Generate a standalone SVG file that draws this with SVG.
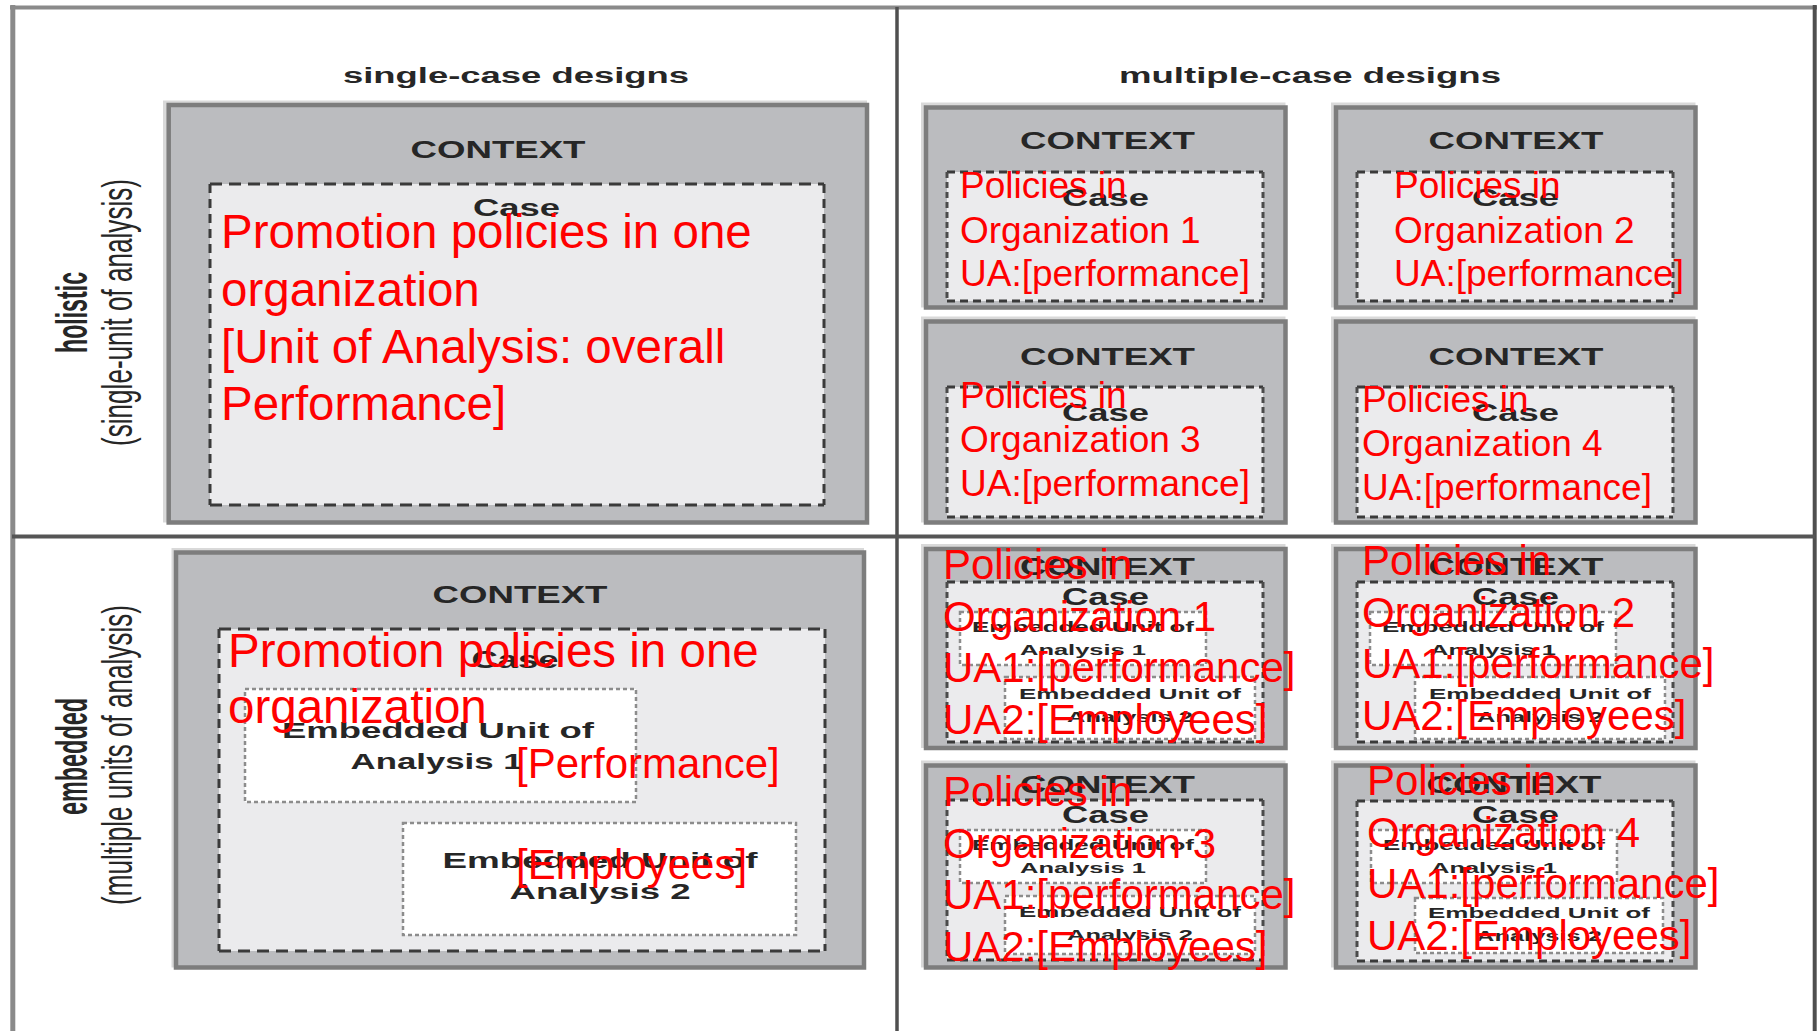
<svg xmlns="http://www.w3.org/2000/svg" width="1817" height="1031" viewBox="0 0 1817 1031">
<defs>
<style>
.bg{fill:#ffffff}
.halo{fill:#d9d9d9}
.ctx{fill:#bbbcbf;stroke:#7d7d7d;stroke-width:4.5}
.case{fill:#ebebed}
.sdh{fill:none;stroke:#3a3a3a;stroke-width:3;stroke-dasharray:12 7}
.sdv{fill:none;stroke:#3a3a3a;stroke-width:3;stroke-dasharray:9 6}
.mdh{fill:none;stroke:#3a3a3a;stroke-width:3;stroke-dasharray:8 5}
.mdv{fill:none;stroke:#4a4a4a;stroke-width:3;stroke-dasharray:6 4}
.eu{fill:#ffffff;stroke:#8c8c8c;stroke-width:2.5;stroke-dasharray:4 3}
.lbl{font-family:"Liberation Sans",Arial,Helvetica,sans-serif;font-weight:bold;fill:#262626;text-anchor:middle}
.rot{font-family:"Liberation Sans",Arial,Helvetica,sans-serif;fill:#262626;text-anchor:middle}
.red{font-family:"Liberation Sans",Arial,Helvetica,sans-serif;fill:#ff0000}
.ctxt{font-size:24px}
.cst{font-size:23px}
.eus{font-size:15px}
.eub{font-size:22px}
.r47{font-size:47.5px}
.r42{font-size:42px}
.r37{font-size:37px}
</style>
</defs>
<rect class="bg" x="0" y="0" width="1817" height="1031"/>

<g id="frame">
<line x1="10" y1="7.5" x2="1817" y2="7.5" stroke="#8a8a8a" stroke-width="4"/>
<line x1="12.8" y1="5" x2="12.8" y2="1031" stroke="#8a8a8a" stroke-width="5"/>
<line x1="1814.7" y1="5" x2="1814.7" y2="1031" stroke="#4f4f4f" stroke-width="4"/>
<line x1="897" y1="7" x2="897" y2="1031" stroke="#4f4f4f" stroke-width="3.5"/>
<line x1="12" y1="536.5" x2="1815" y2="536.5" stroke="#555555" stroke-width="4"/>
</g>

<g id="headers">
<text class="lbl" x="516" y="82.6" font-size="21.5" textLength="346" lengthAdjust="spacingAndGlyphs">single-case designs</text>
<text class="lbl" x="1310" y="82.6" font-size="21.5" textLength="382" lengthAdjust="spacingAndGlyphs">multiple-case designs</text>
</g>

<g id="row-labels">
<text class="lbl" transform="translate(87,312.5) rotate(-90)" font-size="44" textLength="81" lengthAdjust="spacingAndGlyphs">holistic</text>
<text class="rot" transform="translate(132.3,312.5) rotate(-90)" font-size="42" textLength="267" lengthAdjust="spacingAndGlyphs">(single-unit of analysis)</text>
<text class="lbl" transform="translate(87,756.5) rotate(-90)" font-size="44" textLength="117" lengthAdjust="spacingAndGlyphs">embedded</text>
<text class="rot" transform="translate(132.3,755) rotate(-90)" font-size="42" textLength="300" lengthAdjust="spacingAndGlyphs">(multiple units of analysis)</text>
</g>

<g id="single-holistic">
<rect class="halo" x="163" y="100.5" width="704" height="422"/>
<rect class="ctx" x="168.7" y="105" width="698.3" height="417.5"/>
<rect class="case" x="210" y="184" width="614" height="321"/>
<path class="sdh" d="M210 184H824M210 505H824"/>
<path class="sdv" d="M210 184V505M824 184V505"/>
<text class="lbl ctxt" x="498" y="157.5" textLength="175" lengthAdjust="spacingAndGlyphs">CONTEXT</text>
<text class="lbl cst" x="516.6" y="215.5" textLength="87" lengthAdjust="spacingAndGlyphs">Case</text>
<text class="red r47" x="221" y="248">Promotion policies in one</text>
<text class="red r47" x="221" y="305.5">organization</text>
<text class="red r47" x="221" y="363">[Unit of Analysis: overall</text>
<text class="red r47" x="221" y="420">Performance]</text>
</g>

<g id="multi-holistic-1">
<rect class="halo" x="921" y="102.5" width="364.5" height="205"/>
<rect class="ctx" x="926" y="107.5" width="359.5" height="200"/>
<rect class="case" x="947" y="172" width="316" height="129"/>
<path class="mdh" d="M947 172H1263M947 301H1263"/>
<path class="mdv" d="M947 172V301M1263 172V301"/>
<text class="lbl ctxt" x="1107.5" y="149" textLength="175" lengthAdjust="spacingAndGlyphs">CONTEXT</text>
<text class="lbl cst" x="1105.5" y="206" textLength="87" lengthAdjust="spacingAndGlyphs">Case</text>
<text class="red r37" x="960" y="198">Policies in</text>
<text class="red r37" x="960" y="242.5">Organization 1</text>
<text class="red r37" x="960" y="285.5">UA:[performance]</text>
</g>

<g id="multi-holistic-2">
<rect class="halo" x="1331" y="102.5" width="364.5" height="205"/>
<rect class="ctx" x="1336" y="107.5" width="359.5" height="200"/>
<rect class="case" x="1357" y="172" width="316" height="129"/>
<path class="mdh" d="M1357 172H1673M1357 301H1673"/>
<path class="mdv" d="M1357 172V301M1673 172V301"/>
<text class="lbl ctxt" x="1516" y="149" textLength="175" lengthAdjust="spacingAndGlyphs">CONTEXT</text>
<text class="lbl cst" x="1515.5" y="206" textLength="87" lengthAdjust="spacingAndGlyphs">Case</text>
<text class="red r37" x="1394" y="198">Policies in</text>
<text class="red r37" x="1394" y="242.5">Organization 2</text>
<text class="red r37" x="1394" y="285.5">UA:[performance]</text>
</g>

<g id="multi-holistic-3">
<rect class="halo" x="921" y="316.5" width="364.5" height="206"/>
<rect class="ctx" x="926" y="321.5" width="359.5" height="201"/>
<rect class="case" x="947" y="387" width="316" height="130"/>
<path class="mdh" d="M947 387H1263M947 517H1263"/>
<path class="mdv" d="M947 387V517M1263 387V517"/>
<text class="lbl ctxt" x="1107.5" y="364.5" textLength="175" lengthAdjust="spacingAndGlyphs">CONTEXT</text>
<text class="lbl cst" x="1105.5" y="421" textLength="87" lengthAdjust="spacingAndGlyphs">Case</text>
<text class="red r37" x="960" y="408">Policies in</text>
<text class="red r37" x="960" y="452">Organization 3</text>
<text class="red r37" x="960" y="495.5">UA:[performance]</text>
</g>

<g id="multi-holistic-4">
<rect class="halo" x="1331" y="316.5" width="364.5" height="206"/>
<rect class="ctx" x="1336" y="321.5" width="359.5" height="201"/>
<rect class="case" x="1357" y="387" width="316" height="130"/>
<path class="mdh" d="M1357 387H1673M1357 517H1673"/>
<path class="mdv" d="M1357 387V517M1673 387V517"/>
<text class="lbl ctxt" x="1516" y="364.5" textLength="175" lengthAdjust="spacingAndGlyphs">CONTEXT</text>
<text class="lbl cst" x="1515.5" y="421" textLength="87" lengthAdjust="spacingAndGlyphs">Case</text>
<text class="red r37" x="1362" y="412">Policies in</text>
<text class="red r37" x="1362" y="456">Organization 4</text>
<text class="red r37" x="1362" y="499.5">UA:[performance]</text>
</g>

<g id="single-embedded">
<rect class="halo" x="171.5" y="548" width="692.5" height="419.5"/>
<rect class="ctx" x="176" y="552.5" width="688" height="415"/>
<rect class="case" x="219" y="629" width="606" height="322"/>
<path class="sdh" d="M219 629H825M219 951H825"/>
<path class="sdv" d="M219 629V951M825 629V951"/>
<text class="lbl ctxt" x="520" y="602.5" textLength="175" lengthAdjust="spacingAndGlyphs">CONTEXT</text>
<text class="lbl cst" x="515" y="668" textLength="87" lengthAdjust="spacingAndGlyphs">Case</text>
<rect class="eu" x="245" y="689" width="391" height="113"/>
<text class="lbl eub" x="438" y="738.3" textLength="312" lengthAdjust="spacingAndGlyphs">Embedded Unit of</text>
<text class="lbl eub" x="436.6" y="769" textLength="172" lengthAdjust="spacingAndGlyphs">Analysis 1</text>
<rect class="eu" x="403" y="823" width="393" height="112"/>
<text class="lbl eub" x="600" y="868" textLength="315" lengthAdjust="spacingAndGlyphs">Embedded Unit of</text>
<text class="lbl eub" x="600" y="899" textLength="181" lengthAdjust="spacingAndGlyphs">Analysis 2</text>
<text class="red r47" x="228" y="667">Promotion policies in one</text>
<text class="red r47" x="228" y="723">organization</text>
<text class="red r42" x="516" y="778">[Performance]</text>
<text class="red r42" x="516" y="879">[Employees]</text>
</g>

<g id="multi-embedded-1">
<rect class="halo" x="921" y="544" width="364.5" height="204"/>
<rect class="ctx" x="926" y="549" width="359.5" height="199"/>
<rect class="case" x="947" y="582" width="316" height="160"/>
<path class="mdh" d="M947 582H1263M947 742H1263"/>
<path class="mdv" d="M947 582V742M1263 582V742"/>
<text class="lbl ctxt" x="1107.5" y="575" textLength="175" lengthAdjust="spacingAndGlyphs">CONTEXT</text>
<text class="lbl cst" x="1105.5" y="605" textLength="87" lengthAdjust="spacingAndGlyphs">Case</text>
<rect class="eu" x="960" y="612" width="246" height="53"/>
<text class="lbl eus" x="1083" y="632" textLength="222" lengthAdjust="spacingAndGlyphs">Embedded Unit of</text>
<text class="lbl eus" x="1083" y="655" textLength="126" lengthAdjust="spacingAndGlyphs">Analysis 1</text>
<rect class="eu" x="1005" y="677" width="250" height="62"/>
<text class="lbl eus" x="1130" y="699" textLength="222" lengthAdjust="spacingAndGlyphs">Embedded Unit of</text>
<text class="lbl eus" x="1130" y="722" textLength="126" lengthAdjust="spacingAndGlyphs">Analysis 2</text>
<text class="red r42" x="943" y="579">Policies in</text>
<text class="red r42" x="943" y="630.5">Organization 1</text>
<text class="red r42" x="943" y="682">UA1:[performance]</text>
<text class="red r42" x="943" y="733.5">UA2:[Employees]</text>
</g>

<g id="multi-embedded-2">
<rect class="halo" x="1331" y="544" width="364.5" height="204"/>
<rect class="ctx" x="1336" y="549" width="359.5" height="199"/>
<rect class="case" x="1357" y="582" width="316" height="160"/>
<path class="mdh" d="M1357 582H1673M1357 742H1673"/>
<path class="mdv" d="M1357 582V742M1673 582V742"/>
<text class="lbl ctxt" x="1516" y="575" textLength="175" lengthAdjust="spacingAndGlyphs">CONTEXT</text>
<text class="lbl cst" x="1515.5" y="605" textLength="87" lengthAdjust="spacingAndGlyphs">Case</text>
<rect class="eu" x="1370" y="612" width="246" height="53"/>
<text class="lbl eus" x="1493" y="632" textLength="222" lengthAdjust="spacingAndGlyphs">Embedded Unit of</text>
<text class="lbl eus" x="1493" y="655" textLength="126" lengthAdjust="spacingAndGlyphs">Analysis 1</text>
<rect class="eu" x="1415" y="677" width="250" height="62"/>
<text class="lbl eus" x="1540" y="699" textLength="222" lengthAdjust="spacingAndGlyphs">Embedded Unit of</text>
<text class="lbl eus" x="1540" y="722" textLength="126" lengthAdjust="spacingAndGlyphs">Analysis 2</text>
<text class="red r42" x="1362" y="575">Policies in</text>
<text class="red r42" x="1362" y="626.5">Organization 2</text>
<text class="red r42" x="1362" y="678">UA1:[performance]</text>
<text class="red r42" x="1362" y="729.5">UA2:[Employees]</text>
</g>

<g id="multi-embedded-3">
<rect class="halo" x="921" y="760.5" width="364.5" height="207"/>
<rect class="ctx" x="926" y="765.5" width="359.5" height="202"/>
<rect class="case" x="947" y="800" width="316" height="160"/>
<path class="mdh" d="M947 800H1263M947 960H1263"/>
<path class="mdv" d="M947 800V960M1263 800V960"/>
<text class="lbl ctxt" x="1107.5" y="792.5" textLength="175" lengthAdjust="spacingAndGlyphs">CONTEXT</text>
<text class="lbl cst" x="1105.5" y="822.5" textLength="87" lengthAdjust="spacingAndGlyphs">Case</text>
<rect class="eu" x="960" y="830" width="246" height="53"/>
<text class="lbl eus" x="1083" y="850" textLength="222" lengthAdjust="spacingAndGlyphs">Embedded Unit of</text>
<text class="lbl eus" x="1083" y="873" textLength="126" lengthAdjust="spacingAndGlyphs">Analysis 1</text>
<rect class="eu" x="1005" y="896" width="250" height="58"/>
<text class="lbl eus" x="1130" y="917" textLength="222" lengthAdjust="spacingAndGlyphs">Embedded Unit of</text>
<text class="lbl eus" x="1130" y="940" textLength="126" lengthAdjust="spacingAndGlyphs">Analysis 2</text>
<text class="red r42" x="943" y="806">Policies in</text>
<text class="red r42" x="943" y="857.5">Organization 3</text>
<text class="red r42" x="943" y="909">UA1:[performance]</text>
<text class="red r42" x="943" y="960.5">UA2:[Employees]</text>
</g>

<g id="multi-embedded-4">
<rect class="halo" x="1331" y="760.5" width="364.5" height="207"/>
<rect class="ctx" x="1336" y="765.5" width="359.5" height="202"/>
<rect class="case" x="1357" y="801" width="316" height="160"/>
<path class="mdh" d="M1357 801H1673M1357 961H1673"/>
<path class="mdv" d="M1357 801V961M1673 801V961"/>
<text class="lbl ctxt" x="1514" y="793" textLength="175" lengthAdjust="spacingAndGlyphs">CONTEXT</text>
<text class="lbl cst" x="1515.5" y="823" textLength="87" lengthAdjust="spacingAndGlyphs">Case</text>
<rect class="eu" x="1371" y="830" width="246" height="53"/>
<text class="lbl eus" x="1494" y="850" textLength="222" lengthAdjust="spacingAndGlyphs">Embedded Unit of</text>
<text class="lbl eus" x="1494" y="873" textLength="126" lengthAdjust="spacingAndGlyphs">Analysis 1</text>
<rect class="eu" x="1415" y="898" width="248" height="55"/>
<text class="lbl eus" x="1539" y="918" textLength="222" lengthAdjust="spacingAndGlyphs">Embedded Unit of</text>
<text class="lbl eus" x="1539" y="941" textLength="126" lengthAdjust="spacingAndGlyphs">Analysis 2</text>
<text class="red r42" x="1367" y="795">Policies in</text>
<text class="red r42" x="1367" y="846.5">Organization 4</text>
<text class="red r42" x="1367" y="898">UA1:[performance]</text>
<text class="red r42" x="1367" y="949.5">UA2:[Employees]</text>
</g>
</svg>
